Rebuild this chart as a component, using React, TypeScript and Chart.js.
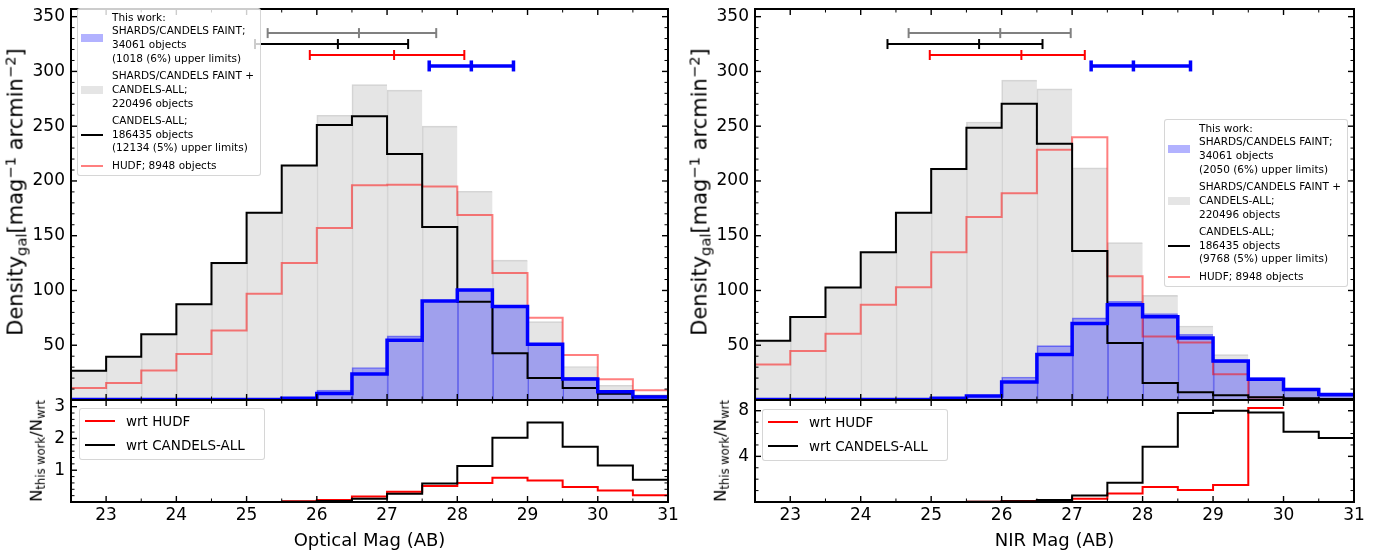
import React, { useEffect, useRef } from 'react';
import { Chart, registerables } from 'chart.js';

Chart.register(...registerables);

const FONT = "'DejaVu Sans', 'Liberation Sans', sans-serif";

// ---------------- data ----------------
const binEdges = [22.5, 23, 23.5, 24, 24.5, 25, 25.5, 26, 26.5, 27, 27.5, 28, 28.5, 29, 29.5, 30, 30.5, 31];
const xTickLabels = [23, 24, 25, 26, 27, 28, 29, 30, 31];
const xMinorTicks = [23.5, 24.5, 25.5, 26.5, 27.5, 28.5, 29.5, 30.5];
const densityTickLabels = [50, 100, 150, 200, 250, 300, 350];
const opticalRatioTickLabels = [1, 2, 3];
const nirRatioTickLabels = [4, 8];

// Optical panel (density, mag^-1 arcmin^-2), 17 bins
const opticalTotal = [26.7, 40, 60, 88, 125, 171, 214, 260, 288, 283, 250, 190.6, 127.7, 71.6, 30.6, 13.5, 5];
const opticalCandels = [26.7, 39.6, 60, 87.5, 125, 171, 214, 251, 259, 224.5, 158, 89.6, 42.6, 20, 11, 5.7, 3.3];
const opticalHudf = [11, 15.6, 27, 42, 63.5, 97, 125, 157, 196, 196.6, 195, 169, 116, 75, 41, 19, 9];
const opticalThisWorkFill = [0, 0, 0, 0, 0, 0.3, 1.5, 9, 29.7, 58.5, 91, 100.4, 85.4, 51.6, 20.7, 8.7, 3.6];
const opticalThisWorkLine = [0.4, 0.4, 0.4, 0.4, 0.4, 0.5, 1.5, 6, 23.7, 54.6, 90.5, 100.4, 85.4, 51, 19.2, 7.5, 2.7];
const opticalRatioHudf = [null, null, null, null, null, null, 0.02, 0.06, 0.17, 0.32, 0.5, 0.6, 0.76, 0.68, 0.47, 0.36, 0.21];
const opticalRatioCandels = [null, null, null, null, null, null, 0.01, 0.03, 0.1, 0.26, 0.58, 1.13, 2.02, 2.5, 1.74, 1.15, 0.7];
// error bars: [total, CANDELS-ALL, HUDF, this work]
const opticalErrLow = [25.3, 25.12, 25.9, 27.6];
const opticalErrMid = [26.6, 26.3, 27.1, 28.2];
const opticalErrHigh = [27.7, 27.3, 28.1, 28.8];

// NIR panel
const nirTotal = [54, 76, 103, 135, 171, 211, 253.8, 292, 284, 212, 143.7, 95.6, 67.6, 41.5, 20, 11, 4.5];
const nirCandels = [54, 75.8, 102.8, 135, 171, 211, 248.6, 270.6, 234, 136, 52, 15.6, 7, 4.3, 2.4, 1.5, 0.9];
const nirHudf = [32.5, 44.8, 60.4, 86.9, 103, 135, 167, 188.8, 228.5, 240, 113, 58, 52.6, 23.5, 2.3, 0, 0];
const nirThisWorkFill = [0, 0, 0, 0, 0, 1, 4.5, 21, 49.6, 75, 90, 79, 60, 35, 20.4, 10, 4.5];
const nirThisWorkLine = [0.4, 0.4, 0.4, 0.4, 0.4, 1.5, 3.6, 16.5, 41.5, 69.8, 87, 76, 56.5, 35.5, 19, 9.6, 5];
const nirRatioHudf = [null, null, null, null, null, null, 0.03, 0.09, 0.15, 0.28, 0.74, 1.32, 1.06, 1.5, 8.24, null, null];
const nirRatioCandels = [null, null, null, null, null, null, 0.015, 0.06, 0.18, 0.56, 1.68, 4.85, 7.8, 8.0, 7.85, 6.15, 5.6];
const nirErrLow = [24.68, 24.38, 24.98, 27.27];
const nirErrMid = [25.98, 25.68, 26.28, 27.87];
const nirErrHigh = [26.98, 26.58, 27.18, 28.68];

const errLevels = [335, 325, 315, 305];
const errColors = ['#808080', '#000000', '#ff0000', '#0000ff'];
const errWidths = [2, 2, 2, 3.5];

const opticalLegend = [
  ['This work:', 'SHARDS/CANDELS FAINT;', '34061 objects', '(1018 (6%) upper limits)'],
  ['SHARDS/CANDELS FAINT +', 'CANDELS-ALL;', '220496 objects'],
  ['CANDELS-ALL;', '186435 objects', '(12134 (5%) upper limits)'],
  ['HUDF; 8948 objects'],
];
const nirLegend = [
  ['This work:', 'SHARDS/CANDELS FAINT;', '34061 objects', '(2050 (6%) upper limits)'],
  ['SHARDS/CANDELS FAINT +', 'CANDELS-ALL;', '220496 objects'],
  ['CANDELS-ALL;', '186435 objects', '(9768 (5%) upper limits)'],
  ['HUDF; 8948 objects'],
];
const ratioLegend = ['wrt HUDF', 'wrt CANDELS-ALL'];

// ---------------- helpers ----------------
function stepPoints(values: (number | null)[]) {
  const pts: { x: number; y: number | null }[] = [];
  values.forEach((v, i) => {
    pts.push({ x: binEdges[i], y: v });
    pts.push({ x: binEdges[i + 1], y: v });
  });
  return pts;
}
function barPoints(values: number[]) {
  return values.map((v, i) => ({ x: (binEdges[i] + binEdges[i + 1]) / 2, y: v }));
}
function range(a: number, b: number, s: number) {
  const out: number[] = [];
  for (let v = a; v <= b + 1e-9; v += s) out.push(Math.round(v * 1000) / 1000);
  return out;
}

const framePlugin = {
  id: 'frame',
  afterDatasetsDraw(chart: any, _args: any, opts: any) {
    const { ctx, chartArea } = chart;
    const { left, right, top, bottom } = chartArea;
    const xs = chart.scales.x;
    const ys = chart.scales.y;
    ctx.save();
    ctx.strokeStyle = '#000';
    const seg = (x1: number, y1: number, x2: number, y2: number, w: number) => {
      ctx.lineWidth = w;
      ctx.beginPath();
      ctx.moveTo(x1, y1);
      ctx.lineTo(x2, y2);
      ctx.stroke();
    };
    const xSets: any[] = [[opts.xMajor, 6, 1.4], [opts.xMinor, 3.5, 1]];
    for (const [vals, len, w] of xSets) {
      for (const v of vals) {
        const p = xs.getPixelForValue(v);
        if (p <= left + 1 || p >= right - 1) continue;
        seg(p, bottom, p, bottom - len, w);
        seg(p, top, p, top + len, w);
      }
    }
    const ySets: any[] = [[opts.yMajor, 6, 1.4], [opts.yMinor, 3.5, 1]];
    for (const [vals, len, w] of ySets) {
      for (const v of vals) {
        const p = ys.getPixelForValue(v);
        if (p <= top + 1 || p >= bottom - 1) continue;
        seg(left, p, left + len, p, w);
        seg(right, p, right - len, p, w);
      }
    }
    ctx.lineWidth = 2;
    ctx.strokeRect(left, top, right - left, bottom - top);
    ctx.restore();
  },
};

const tickFont = { family: FONT, size: 17 };

interface PanelData {
  total: number[];
  candels: number[];
  hudf: number[];
  fill: number[];
  line: number[];
  errLow: number[];
  errMid: number[];
  errHigh: number[];
  ratioHudf: (number | null)[];
  ratioCandels: (number | null)[];
  ratioMax: number;
  ratioLabels: number[];
  ratioMinor: number[];
}

const CANVAS_W = 700;
const Y_AXIS_W = 71;

function topConfig(d: PanelData, plotRight: number) {
  const barCommon = {
    type: 'bar',
    grouped: false,
    barPercentage: 1,
    categoryPercentage: 1,
    borderWidth: { left: 1, top: 1, right: 0, bottom: 0 },
  };
  const lineCommon = { type: 'line', pointRadius: 0, tension: 0, fill: false, spanGaps: false };
  const errSets = errLevels.map((lvl, k) => ({
    type: 'line',
    data: [
      { x: d.errLow[k], y: lvl },
      { x: d.errMid[k], y: lvl },
      { x: d.errHigh[k], y: lvl },
    ],
    borderColor: errColors[k],
    borderWidth: errWidths[k],
    pointStyle: 'line',
    pointRotation: 90,
    pointRadius: k === 3 ? 5.5 : 5,
    pointBorderColor: errColors[k],
    pointBackgroundColor: errColors[k],
    pointBorderWidth: errWidths[k],
    tension: 0,
    order: 1,
  }));
  return {
    type: 'bar',
    data: {
      datasets: [
        {
          ...barCommon,
          data: barPoints(d.total),
          backgroundColor: 'rgba(211,211,211,0.6)',
          borderColor: 'rgba(185,185,185,0.6)',
          order: 10,
        },
        {
          ...barCommon,
          data: barPoints(d.fill),
          backgroundColor: 'rgba(0,0,255,0.3)',
          borderColor: 'rgba(0,0,255,0.45)',
          order: 9,
        },
        { ...lineCommon, data: stepPoints(d.hudf), borderColor: 'rgba(255,0,0,0.5)', borderWidth: 2, order: 4 },
        { ...lineCommon, data: stepPoints(d.candels), borderColor: '#000', borderWidth: 2, order: 3 },
        { ...lineCommon, data: stepPoints(d.line), borderColor: '#0000ff', borderWidth: 3.5, order: 2 },
        ...errSets,
      ],
    },
    options: {
      responsive: false,
      animation: false,
      devicePixelRatio: 1,
      events: [],
      layout: { padding: { left: 0, top: 3, right: CANVAS_W - plotRight, bottom: 10 } },
      plugins: {
        legend: { display: false },
        tooltip: { enabled: false },
        frame: {
          xMajor: xTickLabels,
          xMinor: xMinorTicks,
          yMajor: densityTickLabels,
          yMinor: range(10, 350, 10).filter((v) => v % 50 !== 0),
        },
      },
      scales: {
        x: {
          type: 'linear',
          min: 22.5,
          max: 31,
          offset: false,
          display: false,
          afterBuildTicks: (s: any) => {
            s.ticks = xTickLabels.map((v) => ({ value: v }));
          },
        },
        y: {
          type: 'linear',
          min: 0,
          max: 357,
          grid: { display: false, drawTicks: false },
          border: { display: false },
          afterBuildTicks: (s: any) => {
            s.ticks = densityTickLabels.map((v) => ({ value: v }));
          },
          afterFit: (s: any) => {
            s.width = Y_AXIS_W;
            s.paddingTop = 0;
            s.paddingBottom = 0;
          },
          ticks: { font: tickFont, color: '#000', padding: 6 },
        },
      },
    },
    plugins: [framePlugin],
  };
}

function bottomConfig(d: PanelData, plotRight: number) {
  const lineCommon = { type: 'line', pointRadius: 0, tension: 0, fill: false, spanGaps: false };
  return {
    type: 'line',
    data: {
      datasets: [
        { ...lineCommon, data: stepPoints(d.ratioHudf), borderColor: '#ff0000', borderWidth: 2, order: 2 },
        { ...lineCommon, data: stepPoints(d.ratioCandels), borderColor: '#000000', borderWidth: 2, order: 1 },
      ],
    },
    options: {
      responsive: false,
      animation: false,
      devicePixelRatio: 1,
      events: [],
      layout: { padding: { left: 0, top: 5, right: CANVAS_W - plotRight, bottom: 0 } },
      plugins: {
        legend: { display: false },
        tooltip: { enabled: false },
        frame: {
          xMajor: xTickLabels,
          xMinor: xMinorTicks,
          yMajor: d.ratioLabels,
          yMinor: d.ratioMinor,
        },
      },
      scales: {
        x: {
          type: 'linear',
          min: 22.5,
          max: 31,
          offset: false,
          grid: { display: false, drawTicks: false },
          border: { display: false },
          afterBuildTicks: (s: any) => {
            s.ticks = xTickLabels.map((v) => ({ value: v }));
          },
          afterFit: (s: any) => {
            s.height = 53;
            s.paddingLeft = 0;
            s.paddingRight = 0;
          },
          ticks: { font: tickFont, color: '#000', padding: 3, maxRotation: 0, autoSkip: false },
        },
        y: {
          type: 'linear',
          min: 0,
          max: d.ratioMax,
          grid: { display: false, drawTicks: false },
          border: { display: false },
          afterBuildTicks: (s: any) => {
            s.ticks = d.ratioLabels.map((v) => ({ value: v }));
          },
          afterFit: (s: any) => {
            s.width = Y_AXIS_W;
            s.paddingTop = 0;
            s.paddingBottom = 0;
          },
          ticks: { font: tickFont, color: '#000', padding: 6 },
        },
      },
    },
    plugins: [framePlugin],
  };
}

function ChartCanvas(props: { left: number; top: number; width: number; height: number; make: () => any }) {
  const ref = useRef<HTMLCanvasElement | null>(null);
  useEffect(() => {
    const chart = new Chart(ref.current as HTMLCanvasElement, props.make());
    return () => chart.destroy();
  }, []);
  return (
    <canvas
      ref={ref}
      width={props.width}
      height={props.height}
      style={{ position: 'absolute', left: props.left, top: props.top, width: props.width, height: props.height }}
    />
  );
}

const optical: PanelData = {
  total: opticalTotal,
  candels: opticalCandels,
  hudf: opticalHudf,
  fill: opticalThisWorkFill,
  line: opticalThisWorkLine,
  errLow: opticalErrLow,
  errMid: opticalErrMid,
  errHigh: opticalErrHigh,
  ratioHudf: opticalRatioHudf,
  ratioCandels: opticalRatioCandels,
  ratioMax: 3.21,
  ratioLabels: opticalRatioTickLabels,
  ratioMinor: range(0.2, 3.2, 0.2).filter((v) => Math.abs(v - Math.round(v)) > 1e-6),
};
const nir: PanelData = {
  total: nirTotal,
  candels: nirCandels,
  hudf: nirHudf,
  fill: nirThisWorkFill,
  line: nirThisWorkLine,
  errLow: nirErrLow,
  errMid: nirErrMid,
  errHigh: nirErrHigh,
  ratioHudf: nirRatioHudf,
  ratioCandels: nirRatioCandels,
  ratioMax: 8.94,
  ratioLabels: nirRatioTickLabels,
  ratioMinor: [1, 2, 3, 5, 6, 7],
};

// ---------------- overlays ----------------
const sub = (t: string) => <span style={{ fontSize: '0.7em', position: 'relative', top: '0.3em' }}>{t}</span>;
const sup = (t: string) => <span style={{ fontSize: '0.7em', position: 'relative', top: '-0.5em' }}>{t}</span>;

function YTitle(props: { cx: number; cy: number; size: number; children: any }) {
  return (
    <div
      style={{
        position: 'absolute',
        left: props.cx,
        top: props.cy,
        transform: 'translate(-50%, -50%) rotate(-90deg)',
        whiteSpace: 'nowrap',
        fontSize: props.size,
        lineHeight: 1,
        color: '#000',
      }}
    >
      {props.children}
    </div>
  );
}

function XTitle(props: { cx: number; cy: number; text: string }) {
  return (
    <div
      style={{
        position: 'absolute',
        left: props.cx,
        top: props.cy,
        transform: 'translate(-50%, -50%)',
        whiteSpace: 'nowrap',
        fontSize: 18,
        lineHeight: 1,
        color: '#000',
      }}
    >
      {props.text}
    </div>
  );
}

function TopLegend(props: { left: number; top: number; entries: string[][] }) {
  const handles = [
    <div style={{ width: 22, height: 7.5, background: 'rgba(0,0,255,0.3)' }} />,
    <div style={{ width: 22, height: 7.5, background: 'rgba(211,211,211,0.6)' }} />,
    <div style={{ width: 22, height: 2, background: '#000' }} />,
    <div style={{ width: 22, height: 2, background: 'rgba(255,0,0,0.5)' }} />,
  ];
  return (
    <div
      style={{
        position: 'absolute',
        left: props.left,
        top: props.top,
        width: 184,
        height: 168,
        boxSizing: 'border-box',
        background: 'rgba(255,255,255,0.8)',
        border: '1px solid rgba(204,204,204,0.8)',
        borderRadius: 3,
        fontSize: 10.5,
        lineHeight: '13.8px',
        color: '#000',
        paddingTop: 1.5,
        display: 'flex',
        flexDirection: 'column',
        rowGap: 3.4,
      }}
    >
      {props.entries.map((lines, i) => (
        <div key={i} style={{ display: 'flex', alignItems: 'center' }}>
          <div style={{ width: 22, marginLeft: 3, marginRight: 9, display: 'flex', alignItems: 'center' }}>{handles[i]}</div>
          <div style={{ whiteSpace: 'nowrap' }}>
            {lines.map((l, j) => (
              <div key={j}>{l}</div>
            ))}
          </div>
        </div>
      ))}
    </div>
  );
}

function RatioLegend(props: { left: number; top: number }) {
  const colors = ['#ff0000', '#000000'];
  return (
    <div
      style={{
        position: 'absolute',
        left: props.left,
        top: props.top,
        width: 186,
        height: 52,
        boxSizing: 'border-box',
        background: 'rgba(255,255,255,0.8)',
        border: '1px solid rgba(204,204,204,0.8)',
        borderRadius: 3,
        fontSize: 13.5,
        lineHeight: '16px',
        color: '#000',
        paddingTop: 4,
        display: 'flex',
        flexDirection: 'column',
        rowGap: 7.5,
      }}
    >
      {ratioLegend.map((t, i) => (
        <div key={i} style={{ display: 'flex', alignItems: 'center' }}>
          <div style={{ width: 30, height: 2, background: colors[i], marginLeft: 5, marginRight: 11 }} />
          <div style={{ whiteSpace: 'nowrap' }}>{t}</div>
        </div>
      ))}
    </div>
  );
}

const densityLabel = (
  <span>
    Density{sub('gal')}[mag{sup('−1')} arcmin{sup('−2')}]
  </span>
);
const ratioLabel = (
  <span>
    N{sub('this work')}/N{sub('wrt')}
  </span>
);

export default function App() {
  return (
    <div
      style={{
        position: 'absolute',
        left: 0,
        top: 0,
        width: 1385,
        height: 555,
        background: '#fff',
        overflow: 'hidden',
        fontFamily: FONT,
      }}
    >
      <ChartCanvas left={0} top={0} width={CANVAS_W} height={410} make={() => topConfig(optical, 668)} />
      <ChartCanvas left={0} top={395} width={CANVAS_W} height={160} make={() => bottomConfig(optical, 668)} />
      <ChartCanvas left={684} top={0} width={CANVAS_W} height={410} make={() => topConfig(nir, 670)} />
      <ChartCanvas left={684} top={395} width={CANVAS_W} height={160} make={() => bottomConfig(nir, 670)} />

      <TopLegend left={77} top={8} entries={opticalLegend} />
      <TopLegend left={1164} top={119} entries={nirLegend} />
      <RatioLegend left={79} top={408} />
      <RatioLegend left={762} top={409} />

      <YTitle cx={16} cy={192} size={21}>{densityLabel}</YTitle>
      <YTitle cx={37} cy={451} size={16.5}>{ratioLabel}</YTitle>
      <YTitle cx={700} cy={192} size={21}>{densityLabel}</YTitle>
      <YTitle cx={721} cy={451} size={16.5}>{ratioLabel}</YTitle>

      <XTitle cx={369.5} cy={540} text="Optical Mag (AB)" />
      <XTitle cx={1054.5} cy={540} text="NIR Mag (AB)" />
    </div>
  );
}
